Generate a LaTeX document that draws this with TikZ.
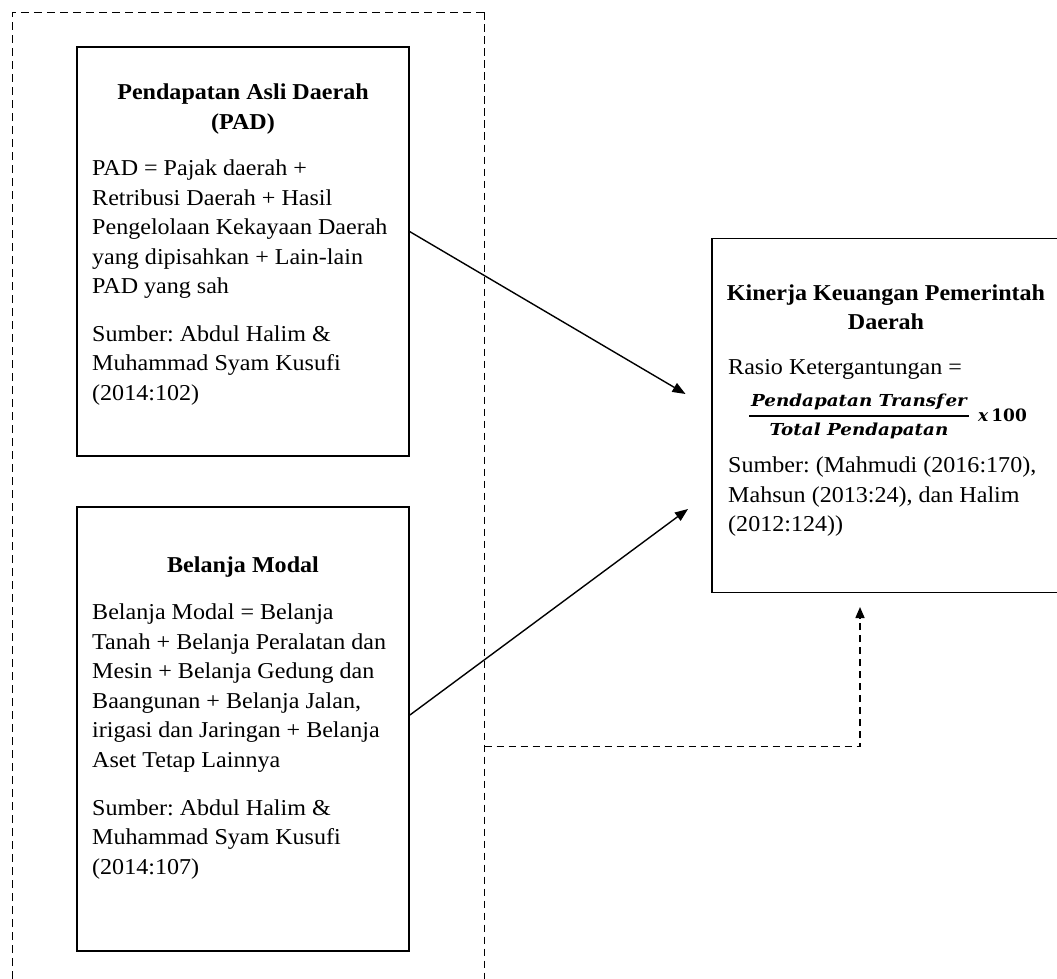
\documentclass[tikz,border=0pt]{standalone}
\usepackage{fontspec}
\setmainfont{Liberation Serif}[FakeStretch=1.06]
\newfontfamily\formfont{DejaVu Serif}[FakeStretch=1.11]
\newfontfamily\kalifont{DejaVu Serif}
\usetikzlibrary{arrows.meta}
\newcommand{\fl}{\rule{0pt}{20pt}}
\frenchspacing
\tikzset{
  box/.style={draw, line width=1.8pt, inner sep=0pt},
  bodytxt/.style={inner sep=0pt, anchor=north west, align=left, font=\fontsize{22.7}{29.5}\selectfont\frenchspacing},
  headtxt/.style={inner sep=0pt, anchor=north, align=center, font=\fontsize{22.7}{29.5}\selectfont\bfseries},
  linetxt/.style={inner sep=0pt, anchor=base west, font=\fontsize{22.7}{29.5}\selectfont},
  formtxt/.style={inner sep=0pt, anchor=base, font=\fontsize{16.5}{20}\formfont\bfseries\itshape},
  arr/.style={line width=1.4pt, -{Triangle[length=13pt,width=10pt]}},
  dconn/.style={line width=1.5pt, dash pattern=on 7.5pt off 4.5pt, -{Triangle[length=11pt,width=9pt]}},
  framethin/.style={line width=0.8pt, dash pattern=on 8pt off 5pt},
  framethick/.style={line width=1.5pt, dash pattern=on 7.5pt off 4.5pt},
}
\begin{document}
\begin{tikzpicture}[x=1pt,y=-1pt]
\useasboundingbox (0,0) rectangle (1057,979);
\clip (0,0) rectangle (1057,979);

% outer dashed frame
\draw[framethin] (12.5,979) -- (12.5,12.5) -- (484.5,12.5);
\draw[framethick] (484.5,12.5) -- (484.5,979);

% boxes
\node[box, minimum width=332pt, minimum height=409pt] (pad) at (243,251.5) {};
\node[box, minimum width=332pt, minimum height=444pt] (bm) at (243,729) {};
\node[box, minimum width=350pt, minimum height=354pt] (kin) at (887,415.5) {};

% PAD texts
\node[headtxt] (padh) at (243,79.3) {\fl Pendapatan Asli Daerah\\(PAD)};
\node[bodytxt] (padb) at (92,155.5) {\fl PAD = Pajak daerah +\\Retribusi Daerah + Hasil\\Pengelolaan Kekayaan Daerah\\yang dipisahkan + Lain-lain\\PAD yang sah\\[18.2pt]Sumber: Abdul Halim \&\\Muhammad Syam Kusufi\\(2014:102)};

% Belanja Modal texts
\node[headtxt] (bmh) at (243,552.7) {\fl Belanja Modal};
\node[bodytxt] (bmb) at (92,599.3) {\fl Belanja Modal = Belanja\\Tanah + Belanja Peralatan dan\\Mesin + Belanja Gedung dan\\Baangunan + Belanja Jalan,\\irigasi dan Jaringan + Belanja\\Aset Tetap Lainnya\\[18.5pt]Sumber: Abdul Halim \&\\Muhammad Syam Kusufi\\(2014:107)};

% Kinerja texts
\node[headtxt] (kinh) at (886,280) {\fl Kinerja Keuangan Pemerintah\\Daerah};
\node[linetxt] (rasio) at (728,374) {Rasio Ketergantungan =};
\node[formtxt] (num) at (859,406) {Pendapatan Transf\kern1.5pt er};
\draw[line width=2pt] (749,415.5) -- (969,415.5);
\node[formtxt] (den) at (859,435) {Total Pendapatan};
\node[inner sep=0pt, anchor=base west, font=\fontsize{17}{20}\kalifont\bfseries] (kali) at (978,421.7) {\textit{x}\,100};
\node[bodytxt] (kinb) at (728,452.7) {\fl Sumber: (Mahmudi (2016:170),\\Mahsun (2013:24), dan Halim\\(2012:124))};

% connectors
\coordinate (t1) at (685.5,394);
\coordinate (t2) at (688,509);
\coordinate (d0) at (484.5,746.7);
\coordinate (t3) at (860,607);
\draw[arr] ([yshift=19.8pt]pad.east) -- (t1);
\draw[arr] ([yshift=14pt]bm.east) -- (t2);
\draw[dconn] (d0) -| (t3);
\end{tikzpicture}
\end{document}
